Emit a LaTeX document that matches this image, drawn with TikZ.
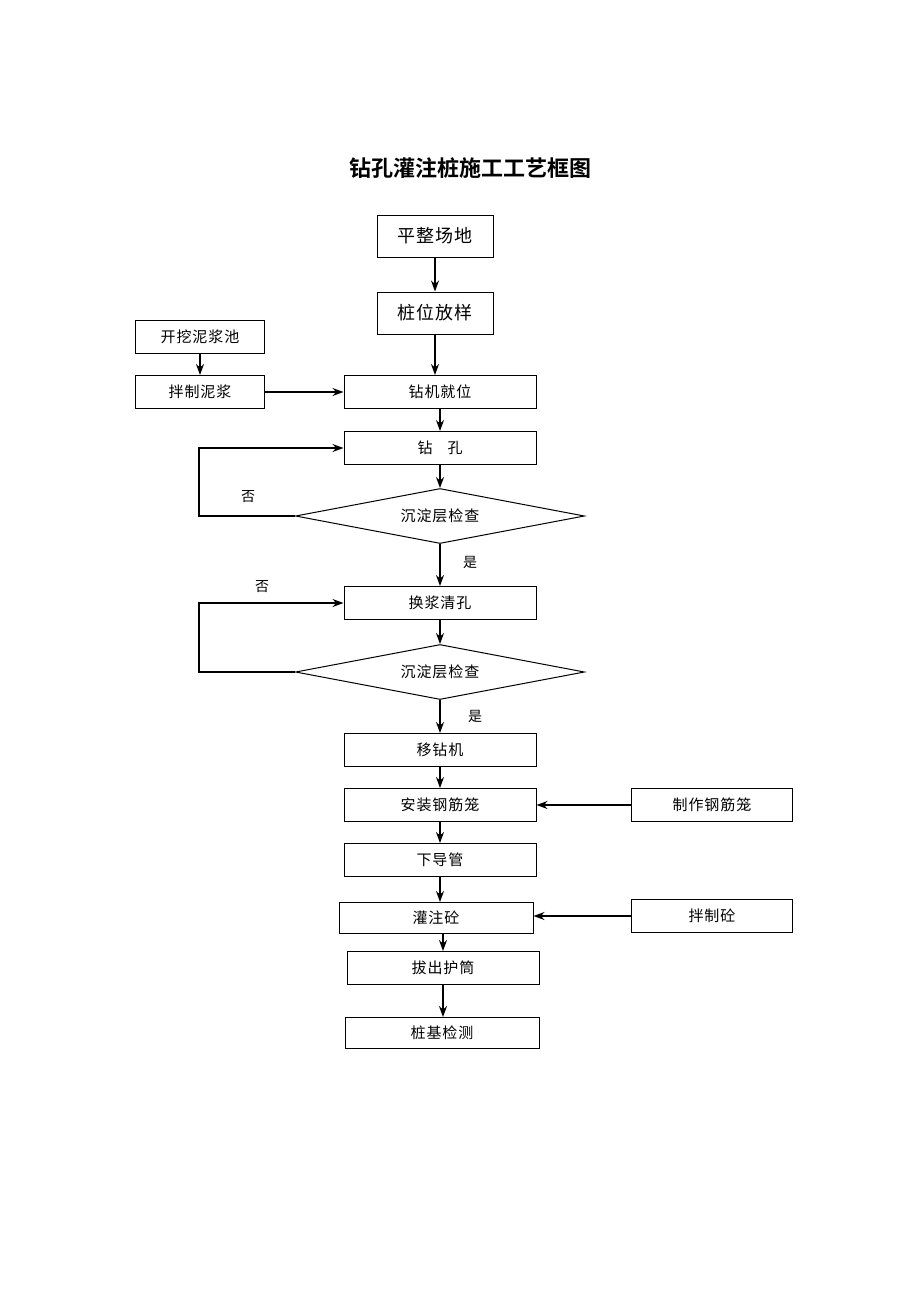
\documentclass[tikz,border=0pt]{standalone}
\usepackage{fontspec}
\usetikzlibrary{shapes.geometric,arrows.meta}
\newfontfamily\cjk[LetterSpace=6]{Noto Sans CJK SC}
\newfontfamily\cjkbf{Noto Sans CJK SC Bold}
\tikzset{
  box/.style={draw, line width=1pt, inner sep=0pt, minimum height=33pt,
    font=\cjk\fontsize{15}{15}\selectfont},
  mainbox/.style={box, minimum width=192pt},
  sidebox/.style={box, minimum width=129pt},
  farbox/.style={box, minimum width=161pt},
  topbox/.style={box, minimum width=116pt, minimum height=42pt,
    font=\cjk\fontsize{18}{18}\selectfont},
  check/.style={draw, diamond, aspect=5.25, line width=1pt, inner sep=0pt,
    minimum width=289pt, minimum height=55pt,
    font=\cjk\fontsize{15}{15}\selectfont},
  lbl/.style={font=\cjk\fontsize{14}{14}\selectfont},
  arr/.style={-{Stealth[length=11pt,width=8pt]}, line width=1.2pt}
}
\begin{document}
\begin{tikzpicture}[x=1pt,y=-1pt]
  \useasboundingbox (0,0) rectangle (920,1302);
  \node[font=\cjkbf\fontsize{22}{22}\selectfont] (title) at (470,168) {钻孔灌注桩施工工艺框图};
  % main column
  \node[topbox] (pzcd) at (435,236) {平整场地};
  \node[topbox] (zwfy) at (435,313) {桩位放样};
  \node[sidebox] (wkc) at (200,337) {开挖泥浆池};
  \node[sidebox] (bzn) at (200,392) {拌制泥浆};
  \node[mainbox] (zjjw) at (440,392) {钻机就位};
  \node[mainbox] (zk) at (440,448) {钻\quad 孔};
  \node[check] (jc1) at (440,516) {沉淀层检查};
  \node[mainbox] (hjqk) at (440,603) {换浆清孔};
  \node[check] (jc2) at (440,672) {沉淀层检查};
  \node[mainbox] (yzj) at (440,750) {移钻机};
  \node[mainbox] (azgj) at (440,805) {安装钢筋笼};
  \node[farbox] (zzgj) at (712,805) {制作钢筋笼};
  \node[mainbox] (xdg) at (440,860) {下导管};
  \node[box, minimum width=194pt, minimum height=31pt] (gzt) at (436,918) {灌注砼};
  \node[farbox] (bzt) at (712,916) {拌制砼};
  \node[mainbox] (bcht) at (443,968) {拔出护筒};
  \node[box, minimum width=194pt, minimum height=31pt] (zjjc) at (442,1033) {桩基检测};
  % labels
  \node[lbl] (no1) at (248,497) {否};
  \node[lbl] (yes1) at (470,562) {是};
  \node[lbl] (no2) at (262,587) {否};
  \node[lbl] (yes2) at (475,716) {是};
  % connectors
  \draw[arr] (pzcd.south) -- (pzcd.south |- zwfy.north);
  \draw[arr] (zwfy.south) -- (zwfy.south |- zjjw.north);
  \draw[arr] (wkc) -- (bzn);
  \draw[arr] (bzn) -- (zjjw);
  \draw[arr] (zjjw) -- (zk);
  \draw[arr] (zk) -- (jc1);
  \draw[arr] (jc1.west) -- +(-96,0) |- (zk.west);
  \draw[arr] (jc1) -- (hjqk);
  \draw[arr] (hjqk) -- (jc2);
  \draw[arr] (jc2.west) -- +(-96,0) |- (hjqk.west);
  \draw[arr] (jc2) -- (yzj);
  \draw[arr] (yzj) -- (azgj);
  \draw[arr] (zzgj) -- (azgj);
  \draw[arr] (azgj) -- (xdg);
  \draw[arr] (xdg.south) -- (xdg.south |- gzt.north);
  \draw[arr] (bzt.west) -- (bzt.west -| gzt.east);
  \draw[arr] (bcht.north |- gzt.south) -- (bcht.north);
  \draw[arr] (bcht.south) -- (bcht.south |- zjjc.north);
\end{tikzpicture}
\end{document}
